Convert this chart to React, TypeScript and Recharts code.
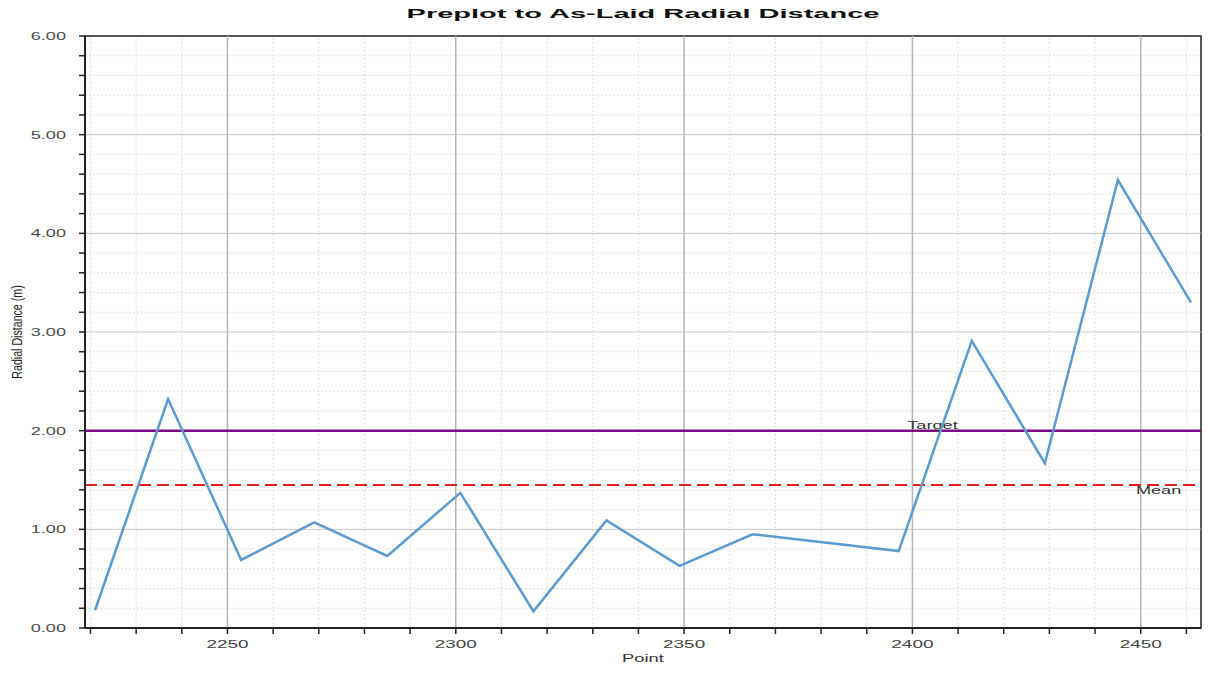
import React from "react";
import {
  LineChart,
  Line,
  XAxis,
  YAxis,
  ReferenceLine,
  ReferenceArea,
  Label,
} from "recharts";

// values
const points = [
  2221, 2237, 2253, 2269, 2285, 2301, 2317, 2333, 2349, 2365, 2397, 2413,
  2429, 2445, 2461,
];
const distances = [
  0.18, 2.32, 0.69, 1.07, 0.73, 1.37, 0.17, 1.09, 0.63, 0.95, 0.78, 2.91,
  1.67, 4.54, 3.3,
];
const target = 2.0;
const mean = 1.45;

const xTicks = [
  2220, 2230, 2240, 2250, 2260, 2270, 2280, 2290, 2300, 2310, 2320, 2330,
  2340, 2350, 2360, 2370, 2380, 2390, 2400, 2410, 2420, 2430, 2440, 2450,
  2460,
];
const xMajor = [2250, 2300, 2350, 2400, 2450];
const yTicks = [
  0, 0.2, 0.4, 0.6, 0.8, 1, 1.2, 1.4, 1.6, 1.8, 2, 2.2, 2.4, 2.6, 2.8, 3,
  3.2, 3.4, 3.6, 3.8, 4, 4.2, 4.4, 4.6, 4.8, 5, 5.2, 5.4, 5.6, 5.8, 6,
];
const yMajor = [1, 2, 3, 4, 5];
const xDomain = [2218.8, 2463.2];
const yDomain = [0, 6];

const data = points.map((p, i) => ({ point: p, distance: distances[i] }));

const FONT = "'Liberation Sans', Arial, sans-serif";
const STRETCH = 1.65;

const isMajorY = (v: number) => Math.abs(v - Math.round(v)) < 1e-6;

function XTick(props: any) {
  const { x, y, payload } = props;
  if (payload.value % 50 !== 0) return <g />;
  return (
    <g transform={`translate(${x},${y})`}>
      <text
        textAnchor="middle"
        dy="0.35em"
        transform={`scale(${STRETCH},1)`}
        fontFamily={FONT}
        fontSize={11.5}
        fill="#444"
      >
        {payload.value}
      </text>
    </g>
  );
}

function YTick(props: any) {
  const { x, y, payload } = props;
  if (!isMajorY(payload.value)) return <g />;
  return (
    <g transform={`translate(${x},${y})`}>
      <text
        textAnchor="end"
        dy="0.35em"
        transform={`scale(${STRETCH},1)`}
        fontFamily={FONT}
        fontSize={11}
        fill="#4a4a4a"
      >
        {Number(payload.value).toFixed(2)}
      </text>
    </g>
  );
}

function PointLabel(props: any) {
  const vb = props.viewBox || {};
  return (
    <g transform={`translate(${vb.x + vb.width / 2},${vb.y + 34})`}>
      <text
        textAnchor="middle"
        transform="scale(1.75,1)"
        fontFamily={FONT}
        fontSize={10.5}
        fill="#333"
      >
        Point
      </text>
    </g>
  );
}

function DistanceLabel(props: any) {
  const vb = props.viewBox || {};
  return (
    <g transform={`translate(${vb.x + 17},${vb.y + vb.height / 2}) rotate(-90)`}>
      <text
        textAnchor="middle"
        dy="0.35em"
        transform="scale(0.76,1)"
        fontFamily={FONT}
        fontSize={14}
        fill="#222"
      >
        Radial Distance (m)
      </text>
    </g>
  );
}

function TargetLabel(props: any) {
  const vb = props.viewBox || {};
  return (
    <g transform={`translate(${vb.x + vb.width * 0.7594},${vb.y - 2})`}>
      <text
        textAnchor="middle"
        transform={`scale(${STRETCH},1)`}
        fontFamily={FONT}
        fontSize={11}
        fill="#333"
      >
        Target
      </text>
    </g>
  );
}

function MeanLabel(props: any) {
  const vb = props.viewBox || {};
  return (
    <g transform={`translate(${vb.x + vb.width * 0.962},${vb.y + 9})`}>
      <text
        textAnchor="middle"
        transform={`scale(${STRETCH},1)`}
        fontFamily={FONT}
        fontSize={11}
        fill="#333"
      >
        Mean
      </text>
    </g>
  );
}

export default function App() {
  return (
    <div
      style={{
        position: "absolute",
        left: 0,
        top: 0,
        width: 1208,
        height: 675,
        background: "#fff",
      }}
    >
      <svg
        width={1208}
        height={30}
        style={{ position: "absolute", left: 0, top: 0 }}
      >
        <g transform="translate(643,18)">
          <text
            textAnchor="middle"
            transform="scale(2.15,1)"
            fontFamily={FONT}
            fontWeight="bold"
            fontSize={13.5}
            fill="#111"
          >
            Preplot to As-Laid Radial Distance
          </text>
        </g>
      </svg>
      <LineChart
        width={1208}
        height={675}
        data={data}
        margin={{ top: 36, right: 7, bottom: 0, left: 0 }}
      >
        {xTicks
          .filter((t) => !xMajor.includes(t))
          .map((t) => (
            <ReferenceLine
              key={`xm${t}`}
              x={t}
              stroke="#e2e2e2"
              strokeDasharray="2 2"
              strokeWidth={1}
            />
          ))}
        {yTicks
          .filter((t) => !isMajorY(t))
          .map((t) => (
            <ReferenceLine
              key={`ym${t}`}
              y={t}
              stroke="#e2e2e2"
              strokeDasharray="2 2"
              strokeWidth={1}
            />
          ))}
        {xMajor.map((t) => (
          <ReferenceLine key={`xM${t}`} x={t} stroke="#b5b5b5" strokeWidth={1.5} />
        ))}
        {yMajor.map((t) => (
          <ReferenceLine key={`yM${t}`} y={t} stroke="#c4c4c4" strokeWidth={1} />
        ))}
        <ReferenceArea
          x1={xDomain[0]}
          x2={xDomain[1]}
          y1={yDomain[0]}
          y2={yDomain[1]}
          fill="none"
          fillOpacity={0}
          stroke="#222"
          strokeWidth={1.5}
        />
        <XAxis
          dataKey="point"
          type="number"
          domain={xDomain}
          ticks={xTicks}
          interval={0}
          allowDataOverflow
          height={47}
          tickSize={6}
          tickMargin={10}
          tick={<XTick />}
          tickLine={{ stroke: "#222", strokeWidth: 1.5 }}
          axisLine={{ stroke: "#222", strokeWidth: 2 }}
        >
          <Label content={<PointLabel />} />
        </XAxis>
        <YAxis
          type="number"
          domain={yDomain}
          ticks={yTicks}
          interval={0}
          allowDataOverflow
          width={85}
          tickSize={6}
          tickMargin={13}
          tick={<YTick />}
          tickLine={{ stroke: "#222", strokeWidth: 1.5 }}
          axisLine={{ stroke: "#222", strokeWidth: 2 }}
        >
          <Label content={<DistanceLabel />} />
        </YAxis>
        <ReferenceLine
          y={mean}
          stroke="#e0201c"
          strokeWidth={2}
          strokeDasharray="12 6"
          label={<MeanLabel />}
        />
        <ReferenceLine
          y={target}
          stroke="#7f0a85"
          strokeWidth={2.5}
          label={<TargetLabel />}
        />
        <Line
          type="linear"
          dataKey="distance"
          stroke="#5b9bd2"
          strokeWidth={2.5}
          dot={false}
          isAnimationActive={false}
        />
      </LineChart>
    </div>
  );
}
